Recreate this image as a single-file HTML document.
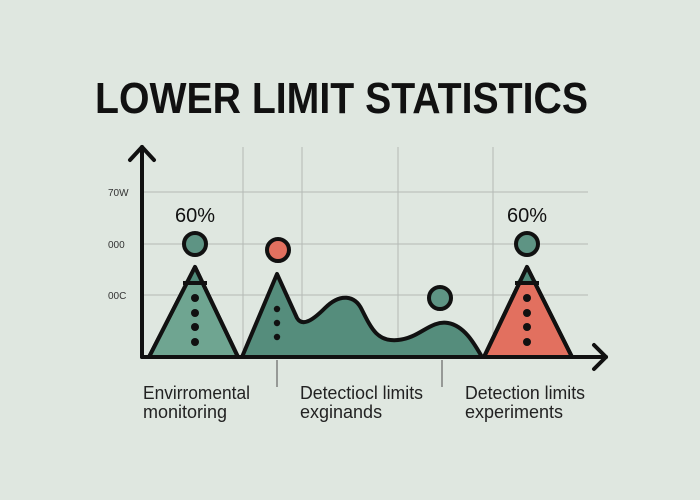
<!DOCTYPE html>
<html><head><style>
html,body{margin:0;padding:0;background:#dfe7e0;}
svg{display:block;}
text{font-family:"Liberation Sans",sans-serif;}
</style></head><body>
<svg width="700" height="500" viewBox="0 0 700 500" xmlns="http://www.w3.org/2000/svg">
<rect width="700" height="500" fill="#dfe7e0"/>
<text x="95" y="113" font-size="44" font-weight="bold" fill="#111" textLength="493" lengthAdjust="spacingAndGlyphs">LOWER LIMIT STATISTICS</text>
<g stroke="#b4bab5" stroke-width="1">
<line x1="142" y1="192" x2="588" y2="192"/>
<line x1="142" y1="244" x2="588" y2="244"/>
<line x1="142" y1="295" x2="588" y2="295"/>
<line x1="243" y1="147" x2="243" y2="357"/>
<line x1="302" y1="147" x2="302" y2="357"/>
<line x1="398" y1="147" x2="398" y2="357"/>
<line x1="493" y1="147" x2="493" y2="357"/>
</g>
<g font-size="10" fill="#333">
<text x="108" y="196">70W</text>
<text x="108" y="248">000</text>
<text x="108" y="299">00C</text>
</g>
<path d="M149 357 L195 267 L238 357 Z" fill="#6fa591" stroke="#111" stroke-width="4" stroke-linejoin="round"/>
<path d="M184 283 L195 267 L205 283 Z" fill="#4f8a79"/>
<line x1="183" y1="283" x2="207" y2="283" stroke="#111" stroke-width="4"/>
<path d="M149 357 L195 267 L238 357 Z" fill="none" stroke="#111" stroke-width="4" stroke-linejoin="round"/>
<path d="M242 357 L277 274 L297 318 C303 328 315 318 325 308 C340 293 355 295 362 310 C372 330 378 342 398 340 C420 338 430 320 448 323 C465 326 475 345 482 357 Z" fill="#558d7c" stroke="#111" stroke-width="4" stroke-linejoin="round"/>
<path d="M484 357 L527 267 L572 357 Z" fill="#e2705f" stroke="#111" stroke-width="4" stroke-linejoin="round"/>
<path d="M516 283 L527 267 L538 283 Z" fill="#4f8a79"/>
<line x1="515" y1="283" x2="539" y2="283" stroke="#111" stroke-width="4"/>
<path d="M484 357 L527 267 L572 357 Z" fill="none" stroke="#111" stroke-width="4" stroke-linejoin="round"/>
<g fill="#111">
<circle cx="195" cy="298" r="4"/><circle cx="195" cy="313" r="4"/><circle cx="195" cy="327" r="4"/><circle cx="195" cy="342" r="4"/>
<circle cx="277" cy="309" r="3.2"/><circle cx="277" cy="323" r="3.2"/><circle cx="277" cy="337" r="3.2"/>
<circle cx="527" cy="298" r="4"/><circle cx="527" cy="313" r="4"/><circle cx="527" cy="327" r="4"/><circle cx="527" cy="342" r="4"/>
</g>
<g stroke="#111" stroke-width="4">
<circle cx="195" cy="244" r="11" fill="#5e9484"/>
<circle cx="278" cy="250" r="11" fill="#e2705f"/>
<circle cx="440" cy="298" r="11" fill="#5e9484"/>
<circle cx="527" cy="244" r="11" fill="#5e9484"/>
</g>
<g font-size="20" fill="#111">
<text x="195" y="222" text-anchor="middle">60%</text>
<text x="527" y="222" text-anchor="middle">60%</text>
</g>
<g stroke="#111" stroke-width="4" fill="none" stroke-linecap="round" stroke-linejoin="round">
<line x1="142" y1="147" x2="142" y2="357"/>
<line x1="142" y1="357" x2="606" y2="357"/>
<polyline points="130,160 142,147 154,160"/>
<polyline points="594,345 606,357 594,369"/>
</g>
<g stroke="#666" stroke-width="1.2">
<line x1="277" y1="360" x2="277" y2="387"/>
<line x1="442" y1="360" x2="442" y2="387"/>
</g>
<g font-size="18" fill="#222">
<text x="143" y="399" textLength="107" lengthAdjust="spacingAndGlyphs">Envirromental</text>
<text x="143" y="418">monitoring</text>
<text x="300" y="399" textLength="123" lengthAdjust="spacingAndGlyphs">Detectiocl limits</text>
<text x="300" y="418">exginands</text>
<text x="465" y="399" textLength="120" lengthAdjust="spacingAndGlyphs">Detection limits</text>
<text x="465" y="418">experiments</text>
</g>
</svg>
</body></html>
